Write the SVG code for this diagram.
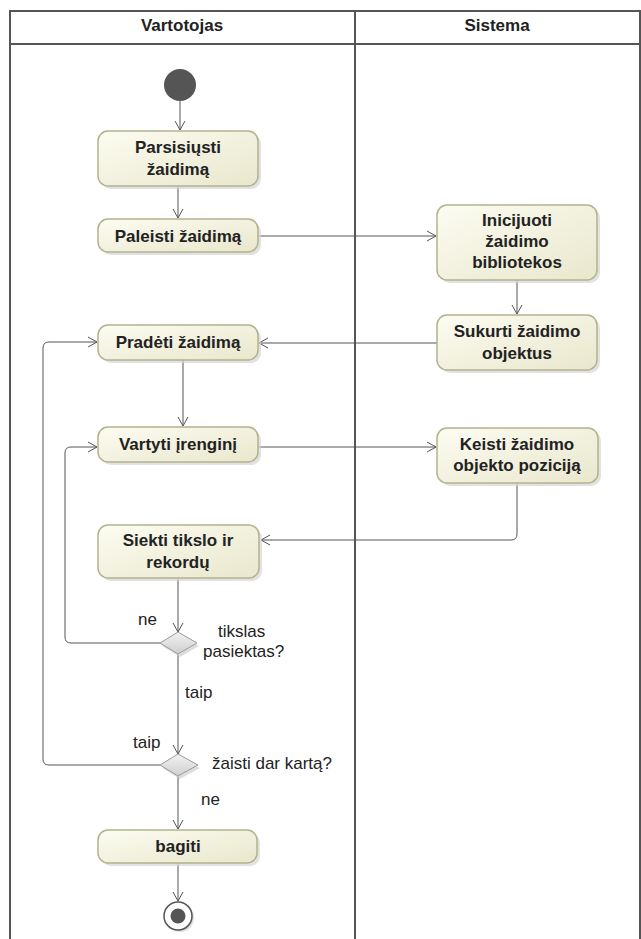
<svg xmlns="http://www.w3.org/2000/svg" width="641" height="939" viewBox="0 0 641 939">
  <defs>
    <linearGradient id="actFill" x1="0" y1="0" x2="1" y2="1">
      <stop offset="0" stop-color="#fcfcf2"/>
      <stop offset="1" stop-color="#e9e7cc"/>
    </linearGradient>
    <linearGradient id="decFill" x1="0" y1="0" x2="0" y2="1">
      <stop offset="0" stop-color="#f2f2f2"/>
      <stop offset="1" stop-color="#cfcfcf"/>
    </linearGradient>
    <marker id="open" markerWidth="12" markerHeight="12" refX="10" refY="6" orient="auto" markerUnits="userSpaceOnUse">
      <path d="M1,1 L10,6 L1,11" fill="none" stroke="#555" stroke-width="1"/>
    </marker>
  </defs>
  <style>
    .lane { fill: none; stroke: #555; stroke-width: 2; }
    .head { font-family: "Liberation Sans", Arial, sans-serif; font-size: 17px; font-weight: bold; fill: #222; text-anchor: middle; }
    .shadow { fill: #d6d6d6; opacity: 0.7; }
    .act { fill: url(#actFill); stroke: #b3b28e; stroke-width: 1.5; }
    .lbl { font-family: "Liberation Sans", Arial, sans-serif; font-size: 17px; font-weight: bold; fill: #222; text-anchor: middle; }
    .guard { font-family: "Liberation Sans", Arial, sans-serif; font-size: 17px; fill: #222; }
    .flow { fill: none; stroke: #555; stroke-width: 1; marker-end: url(#open); }
    .dec { fill: url(#decFill); stroke: #9a9a9a; stroke-width: 1; }
  </style>
  <rect width="641" height="939" fill="#ffffff"/>

  <!-- swimlanes -->
  <g id="lanes">
    <path class="lane" d="M10,939 V11 H640 V939"/>
    <line class="lane" x1="10" y1="44" x2="640" y2="44"/>
    <line class="lane" x1="355" y1="11" x2="355" y2="939"/>
    <text class="head" x="182" y="31">Vartotojas</text>
    <text class="head" x="497" y="31">Sistema</text>
  </g>

  <!-- connectors -->
  <g id="connectors">
    <path class="flow" d="M180,101 V130"/>
    <path class="flow" d="M178,186 V218"/>
    <path class="flow" d="M258,236 H436"/>
    <path class="flow" d="M517,280 V314"/>
    <path class="flow" d="M437,343 H259"/>
    <path class="flow" d="M183,360 V426"/>
    <path class="flow" d="M258,447 H436"/>
    <path class="flow" d="M517,483 V534 Q517,540 511,540 H261"/>
    <path class="flow" d="M178,578 V632"/>
    <path class="flow" d="M160,643 H71 Q65,643 65,637 V453 Q65,447 71,447 H97"/>
    <path class="flow" d="M178,654 V754"/>
    <path class="flow" d="M160,765 H49 Q43,765 43,759 V348 Q43,342 49,342 H97"/>
    <path class="flow" d="M178,775 V829"/>
    <path class="flow" d="M178,863 V901"/>
    <text class="guard" x="138" y="625">ne</text>
    <text class="guard" x="185" y="698">taip</text>
    <text class="guard" x="133" y="748">taip</text>
    <text class="guard" x="201" y="805">ne</text>
  </g>

  <g id="start">
    <circle cx="180" cy="85" r="16" fill="#555"/>
  </g>

  <g id="parsisiusti">
    <rect class="shadow" x="101" y="134" width="160" height="55" rx="10"/>
    <rect class="act" x="98" y="131" width="160" height="55" rx="10"/>
    <text class="lbl" x="178" y="153">Parsisiųsti</text>
    <text class="lbl" x="178" y="175">žaidimą</text>
  </g>

  <g id="paleisti">
    <rect class="shadow" x="101" y="222" width="160" height="33" rx="10"/>
    <rect class="act" x="98" y="219" width="160" height="33" rx="10"/>
    <text class="lbl" x="178" y="242">Paleisti žaidimą</text>
  </g>

  <g id="inicijuoti">
    <rect class="shadow" x="440" y="208" width="160" height="75" rx="10"/>
    <rect class="act" x="437" y="205" width="160" height="75" rx="10"/>
    <text class="lbl" x="517" y="226">Inicijuoti</text>
    <text class="lbl" x="517" y="247">žaidimo</text>
    <text class="lbl" x="517" y="268">bibliotekos</text>
  </g>

  <g id="sukurti">
    <rect class="shadow" x="440" y="318" width="160" height="55" rx="10"/>
    <rect class="act" x="437" y="315" width="160" height="55" rx="10"/>
    <text class="lbl" x="517" y="337">Sukurti žaidimo</text>
    <text class="lbl" x="517" y="359">objektus</text>
  </g>

  <g id="pradeti">
    <rect class="shadow" x="101" y="328" width="160" height="35" rx="10"/>
    <rect class="act" x="98" y="325" width="160" height="35" rx="10"/>
    <text class="lbl" x="178" y="348">Pradėti žaidimą</text>
  </g>

  <g id="vartyti">
    <rect class="shadow" x="101" y="430" width="160" height="35" rx="10"/>
    <rect class="act" x="98" y="427" width="160" height="35" rx="10"/>
    <text class="lbl" x="178" y="450">Vartyti įrenginį</text>
  </g>

  <g id="keisti">
    <rect class="shadow" x="440" y="431" width="161" height="55" rx="10"/>
    <rect class="act" x="437" y="428" width="161" height="55" rx="10"/>
    <text class="lbl" x="517" y="450">Keisti žaidimo</text>
    <text class="lbl" x="517" y="471">objekto poziciją</text>
  </g>

  <g id="siekti">
    <rect class="shadow" x="101" y="528" width="161" height="53" rx="10"/>
    <rect class="act" x="98" y="525" width="161" height="53" rx="10"/>
    <text class="lbl" x="178" y="546">Siekti tikslo ir</text>
    <text class="lbl" x="178" y="568">rekordų</text>
  </g>

  <g id="tikslas">
    <polygon points="180,635 199,646 180,657 162,646" fill="#d0d0d0" opacity="0.7"/>
    <polygon class="dec" points="178,632 197,643 178,654 160,643"/>
    <text class="guard" x="218" y="637">tikslas</text>
    <text class="guard" x="203" y="657">pasiektas?</text>
  </g>

  <g id="zaisti">
    <polygon points="180,757 200,768 180,779 162,768" fill="#d0d0d0" opacity="0.7"/>
    <polygon class="dec" points="178,754 198,765 178,776 160,765"/>
    <text class="guard" x="212" y="769">žaisti dar kartą?</text>
  </g>

  <g id="bagiti">
    <rect class="shadow" x="101" y="833" width="159" height="33" rx="10"/>
    <rect class="act" x="98" y="830" width="159" height="33" rx="10"/>
    <text class="lbl" x="178" y="852">bagiti</text>
  </g>

  <g id="end">
    <circle cx="180" cy="918" r="14" fill="#d0d0d0" opacity="0.7"/>
    <circle cx="178" cy="916" r="14" fill="#fff" stroke="#555" stroke-width="1.5"/>
    <circle cx="178" cy="916" r="7.5" fill="#555"/>
  </g>
</svg>
